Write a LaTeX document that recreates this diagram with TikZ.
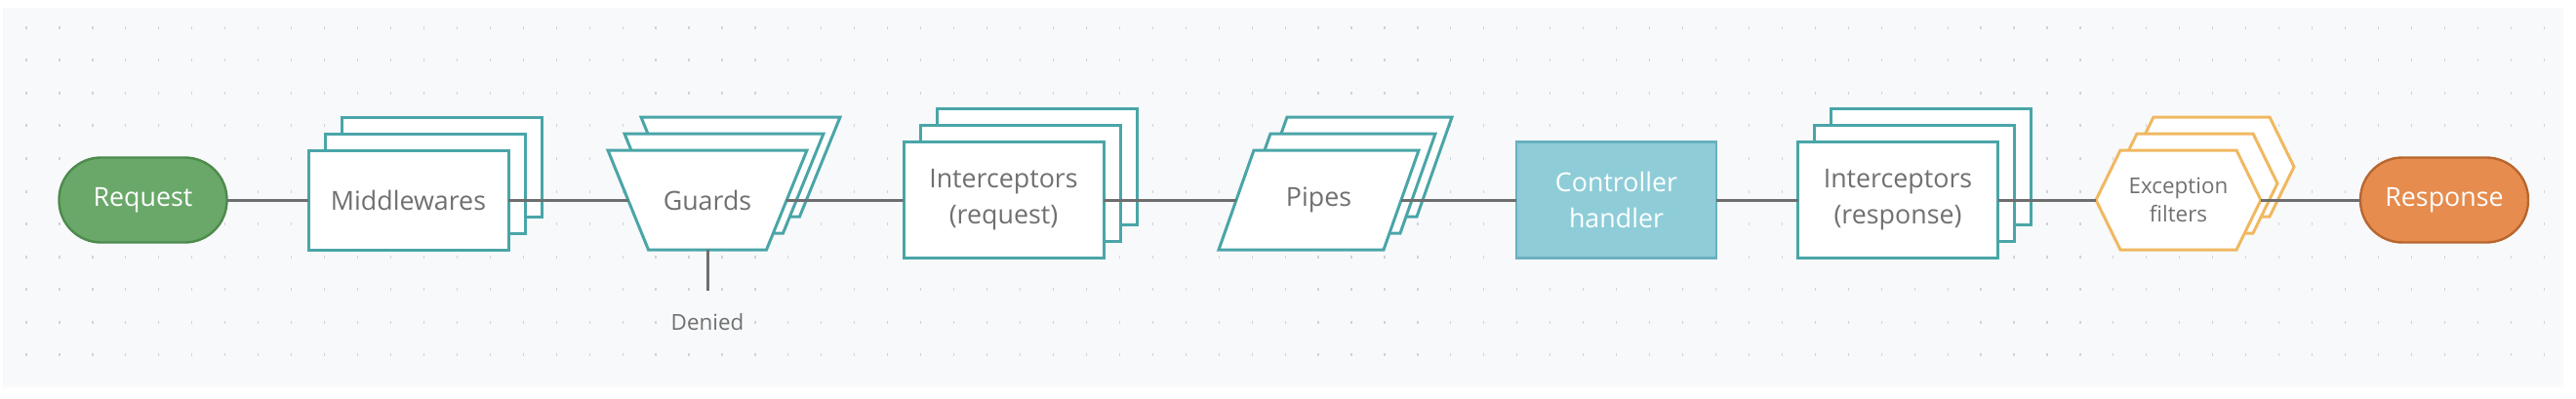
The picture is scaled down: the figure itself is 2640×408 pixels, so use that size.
\documentclass[tikz,border=0pt]{standalone}
\usepackage{fontspec}
\setmainfont{Open Sans}
\usetikzlibrary{calc}
\definecolor{tealb}{HTML}{4AA5A8}
\definecolor{lbl}{HTML}{707070}
\definecolor{conn}{HTML}{6E6E6E}
\definecolor{reqfill}{HTML}{6AA86A}
\definecolor{reqdraw}{HTML}{4D8A4D}
\definecolor{resfill}{HTML}{E68C4E}
\definecolor{resdraw}{HTML}{B8662E}
\definecolor{excb}{HTML}{F0B860}
\definecolor{ctrlfill}{HTML}{8ECDD8}
\definecolor{ctrldraw}{HTML}{6AB0BF}
\definecolor{panelbg}{HTML}{F8F9FA}
\definecolor{dotc}{HTML}{D0D3D8}
\pgfdeclarelayer{bglayer}
\pgfdeclarelayer{shapes}
\pgfsetlayers{bglayer,shapes,main}
\tikzset{
  lbltext/.style={text=lbl, font=\fontsize{13.4}{18.5}\selectfont, align=center},
  smalltext/.style={text=lbl, font=\fontsize{11.2}{14.3}\selectfont, align=center},
  stackbox/.style={rectangle, draw=tealb, fill=white, line width=1.5pt, minimum width=102.5pt, inner sep=0pt, outer sep=0pt},
  holder/.style={rectangle, inner sep=0pt, outer sep=0pt, minimum height=51pt},
  pill/.style={rectangle, rounded corners=21.5pt, line width=1.2pt, minimum width=86pt, minimum height=43.5pt, text=white, font=\fontsize{13.4}{18.5}\selectfont, inner sep=0pt, outer sep=0pt},
  connline/.style={draw=conn, line width=1.5pt},
  outline/.style={line width=1.5pt, fill=white, line join=miter}
}
\newcommand{\trapout}[1]{%
  \begin{pgfonlayer}{shapes}
  \draw[outline, draw=tealb] ($(#1.north west)+(-20.75,0)$) -- ($(#1.north east)+(20.75,0)$) -- ($(#1.south east)+(-20.75,0)$) -- ($(#1.south west)+(20.75,0)$) -- cycle;
  \end{pgfonlayer}}
\newcommand{\parout}[1]{%
  \begin{pgfonlayer}{shapes}
  \draw[outline, draw=tealb] ($(#1.north west)+(18,0)$) -- ($(#1.north east)+(18,0)$) -- ($(#1.south east)+(-18,0)$) -- ($(#1.south west)+(-18,0)$) -- cycle;
  \end{pgfonlayer}}
\newcommand{\hexout}[1]{%
  \begin{pgfonlayer}{shapes}
  \draw[outline, draw=excb] (#1.west) -- ($(#1.north west)+(25,0)$) -- ($(#1.north east)+(-25,0)$) -- (#1.east) -- ($(#1.south east)+(-25,0)$) -- ($(#1.south west)+(25,0)$) -- cycle;
  \end{pgfonlayer}}
\begin{document}
\begin{tikzpicture}[x=0.5pt,y=-0.5pt]
\useasboundingbox (0,0) rectangle (2640,408);
\begin{pgfonlayer}{bglayer}
  \fill[white] (0,0) rectangle (2640,408);
  \fill[panelbg] (3,8) rectangle (2627,397);
  \foreach \i in {0,...,76} {
    \foreach \j in {0,...,10} {
      \draw[dotc, line width=0.6pt] (27+33.95*\i, 26.8+33.55*\j) -- ++(0,3);
    }
  }
\end{pgfonlayer}

% Request
\node[pill, draw=reqdraw, fill=reqfill] (req) at (146.5,205) {Request};

% Middlewares stack
\node[stackbox, minimum height=51pt] (mw3) at (452.5,171) {};
\node[stackbox, minimum height=51pt] (mw2) at (435.5,188) {};
\node[stackbox, minimum height=51pt, lbltext] (mw) at (418.5,205) {Middlewares};

% Guards stack
\node[holder, minimum width=81.25pt] (gd3) at (759,171) {};
\trapout{gd3}
\node[holder, minimum width=81.25pt] (gd2) at (742,188) {};
\trapout{gd2}
\node[holder, minimum width=81.25pt, lbltext] (gd) at (725,205) {Guards};
\trapout{gd}

% Interceptors (request) stack
\node[stackbox, minimum height=59.5pt] (icq3) at (1062.5,171) {};
\node[stackbox, minimum height=59.5pt] (icq2) at (1045.5,188) {};
\node[stackbox, minimum height=59.5pt, lbltext] (icq) at (1028.5,205) {Interceptors\\(request)};

% Pipes stack
\node[holder, minimum width=84.5pt] (pp3) at (1385.5,171) {};
\parout{pp3}
\node[holder, minimum width=84.5pt] (pp2) at (1368.5,188) {};
\parout{pp2}
\node[holder, minimum width=84.5pt, lbltext] (pp) at (1351.5,205) {Pipes};
\parout{pp}

% Controller handler
\node[rectangle, draw=ctrldraw, fill=ctrlfill, line width=1.2pt, minimum width=102.5pt, minimum height=59.5pt, inner sep=0pt, outer sep=0pt, text=white, font=\fontsize{13.4}{18.5}\selectfont, align=center] (ctl) at (1656.5,205) {Controller\\handler};

% Interceptors (response) stack
\node[stackbox, minimum height=59.5pt] (icr3) at (1979,171) {};
\node[stackbox, minimum height=59.5pt] (icr2) at (1962,188) {};
\node[stackbox, minimum height=59.5pt, lbltext] (icr) at (1945,205) {Interceptors\\(response)};

% Exception filters stack
\node[holder, minimum width=84.5pt] (ex3) at (2266.5,171) {};
\hexout{ex3}
\node[holder, minimum width=84.5pt] (ex2) at (2249.5,188) {};
\hexout{ex2}
\node[holder, minimum width=84.5pt, smalltext] (ex) at (2232.5,205) {Exception\\filters};
\hexout{ex}

% Response
\node[pill, draw=resdraw, fill=resfill] (res) at (2505,205) {Response};

% Denied
\coordinate (dend) at (725,298);
\node[smalltext] (den) at (725,330) {Denied};

% connectors
\draw[connline] (req.east) -- (mw.west);
\draw[connline] (mw.east) -- (gd.west);
\draw[connline] (gd.east) -- (icq.west);
\draw[connline] (icq.east) -- (pp.west);
\draw[connline] (pp.east) -- (ctl.west);
\draw[connline] (ctl.east) -- (icr.west);
\draw[connline] (icr.east) -- (ex.west);
\draw[connline] (ex.east) -- (res.west);
\draw[connline] (gd.south) -- (dend);
\end{tikzpicture}
\end{document}
